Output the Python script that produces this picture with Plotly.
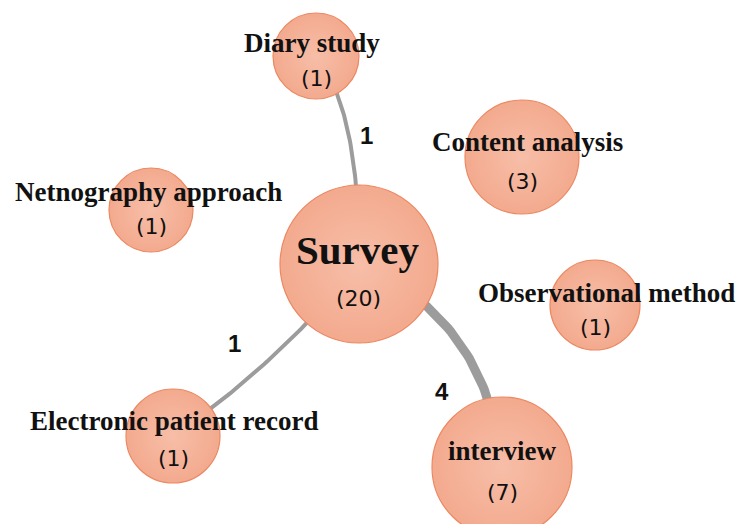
import numpy as np
import plotly.graph_objects as go

# datos: métodos de investigación y número de estudios
metodos = ["Survey", "Diary study", "Content analysis", "Netnography approach",
           "Observational method", "Electronic patient record", "interview"]
estudios = [20, 1, 3, 1, 1, 1, 7]

# enlaces (co-uso con Survey) y su peso
enlace_origen = ["Survey", "Survey", "Survey"]
enlace_destino = ["Diary study", "Electronic patient record", "interview"]
enlace_peso = [1, 1, 4]

# disposición en píxeles (layout del grafo)
pos = {
    "Survey": (359, 264),
    "Diary study": (316, 56),
    "Content analysis": (522, 157),
    "Netnography approach": (151, 210),
    "Observational method": (595, 305),
    "Electronic patient record": (173, 436),
    "interview": (502, 467),
}
radio = {"Survey": 79, "Diary study": 43, "Content analysis": 57,
         "Netnography approach": 42, "Observational method": 45,
         "Electronic patient record": 47, "interview": 70}
pos_etiqueta = {
    "Survey": (358, 250), "Diary study": (312, 43), "Content analysis": (527, 142),
    "Netnography approach": (148, 192), "Observational method": (606, 293),
    "Electronic patient record": (174, 421), "interview": (502, 451),
}
pos_conteo = {
    "Survey": (358, 298), "Diary study": (316, 78), "Content analysis": (522, 181),
    "Netnography approach": (151, 226), "Observational method": (595, 327),
    "Electronic patient record": (173, 458), "interview": (502, 492),
}
# punto de control de cada curva y posición del número del enlace
control = {"Diary study": (360, 110), "Electronic patient record": (278, 364),
           "interview": (488, 320)}
pos_peso = {"Diary study": (366, 135), "Electronic patient record": (234, 343),
            "interview": (442, 391)}

fig = go.Figure()

t = np.linspace(0, 1, 60)
for o, d, w in zip(enlace_origen, enlace_destino, enlace_peso):
    p0 = np.array(pos[o]); p2 = np.array(pos[d]); c = np.array(control[d])
    pts = ((1 - t) ** 2)[:, None] * p0 + (2 * t * (1 - t))[:, None] * c + (t ** 2)[:, None] * p2
    fig.add_trace(go.Scatter(
        x=pts[:, 0], y=pts[:, 1], mode='lines',
        line=dict(color='#9c9c9c', width=4 + (w - 1) * 5 / 3),
        hoverinfo='skip', showlegend=False
    ))
    fig.add_annotation(x=pos_peso[d][0], y=pos_peso[d][1], text=f"<b>{w}</b>",
                       showarrow=False, font=dict(family="Liberation Sans", size=24, color="#111"))

fig.add_trace(go.Scatter(
    x=[pos[m][0] for m in metodos],
    y=[pos[m][1] for m in metodos],
    mode='markers',
    marker=dict(size=[2 * radio[m] for m in metodos], color='#F3AA8E',
                gradient=dict(type='radial', color='#F7BEA8'),
                line=dict(color='#EC8862', width=1.2), opacity=1),
    customdata=estudios,
    hovertemplate="%{text}: %{customdata}<extra></extra>",
    text=metodos,
    showlegend=False
))

for m, n in zip(metodos, estudios):
    tam = 41 if m == "Survey" else 27
    fig.add_annotation(x=pos_etiqueta[m][0], y=pos_etiqueta[m][1], text=f"<b>{m}</b>",
                       showarrow=False,
                       font=dict(family="Liberation Serif", size=tam, color="#111"))
    fig.add_annotation(x=pos_conteo[m][0], y=pos_conteo[m][1], text=f"({n})",
                       showarrow=False,
                       font=dict(family="DejaVu Sans", size=22, color="#111"))

fig.update_xaxes(range=[0, 736], visible=False)
fig.update_yaxes(range=[524, 0], visible=False)
fig.update_layout(
    width=736, height=524, autosize=False,
    margin=dict(l=0, r=0, t=0, b=0),
    plot_bgcolor='white', paper_bgcolor='white',
    showlegend=False
)

# quitar el margen del body para que el gráfico ocupe la ventana
fig.write_html("out.html", config={"displayModeBar": False},
               post_script="document.body.style.margin='0';")
